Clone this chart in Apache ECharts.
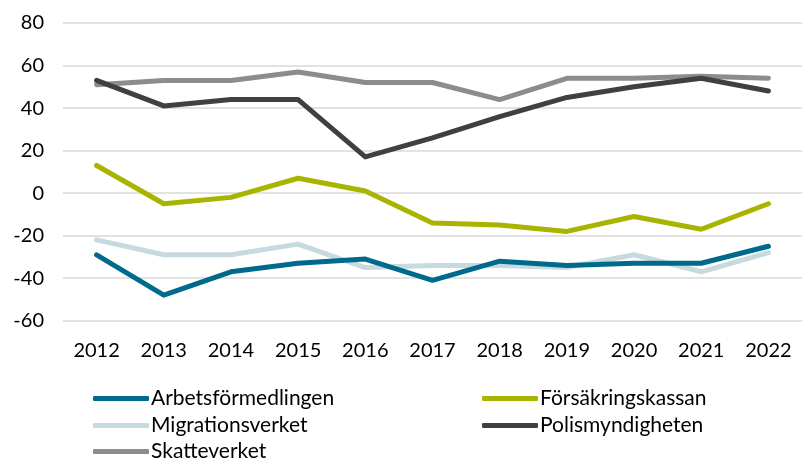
<!DOCTYPE html>
<html>
<head>
<meta charset="utf-8">
<script src="https://cdn.jsdelivr.net/npm/echarts@6/dist/echarts.min.js"></script>
<style>
html,body{margin:0;padding:0;background:#fff;}
#c{width:802px;height:461px;}
</style>
</head>
<body>
<div id="c"></div>
<script>
const years = ['2012','2013','2014','2015','2016','2017','2018','2019','2020','2021','2022'];
const yTicks = [-60,-40,-20,0,20,40,60,80];
const arbetsformedlingen = [-29,-48,-37,-33,-31,-41,-32,-34,-33,-33,-25];
const forsakringskassan = [13,-5,-2,7,1,-14,-15,-18,-11,-17,-5];
const migrationsverket = [-22,-29,-29,-24,-35,-34,-34,-35,-29,-37,-28];
const polismyndigheten = [53,41,44,44,17,26,36,45,50,54,48];
const skatteverket = [51,53,53,57,52,52,44,54,54,55,54];

const FONT = 'Lato';
const seriesDefs = [
  {name:'Skatteverket', data:skatteverket, color:'#8C8C8C'},
  {name:'Polismyndigheten', data:polismyndigheten, color:'#404040'},
  {name:'Försäkringskassan', data:forsakringskassan, color:'#A8B400'},
  {name:'Migrationsverket', data:migrationsverket, color:'#C7DADF'},
  {name:'Arbetsförmedlingen', data:arbetsformedlingen, color:'#006A8C'}
];
const legendPos = {
  'Arbetsförmedlingen':{left:93, top:388},
  'Försäkringskassan':{left:482, top:388},
  'Migrationsverket':{left:93, top:415},
  'Polismyndigheten':{left:482, top:415},
  'Skatteverket':{left:93, top:441}
};
const legends = Object.keys(legendPos).map(n => ({
  data:[n], left:legendPos[n].left, top:legendPos[n].top,
  icon:'roundRect', itemWidth:56, itemHeight:5, itemGap:0,
  textStyle:{fontFamily:FONT, fontSize:21, color:'#000', padding:[0,0,0,-3]},
  padding:0, selectedMode:false
}));

const chart = echarts.init(document.getElementById('c'), null, {renderer:'canvas'});
chart.setOption({
  animation:false,
  backgroundColor:'#fff',
  grid:{left:63, top:23, width:744, bottom:140.3, containLabel:false},
  legend:legends,
  xAxis:{type:'category', data:years, boundaryGap:true,
    axisLine:{show:false}, axisTick:{show:false},
    axisLabel:{fontFamily:FONT, fontSize:20, color:'#000', margin:20}},
  yAxis:{type:'value', min:yTicks[0], max:yTicks[yTicks.length-1], interval:20,
    axisLine:{show:false}, axisTick:{show:false},
    splitLine:{lineStyle:{color:'#D9D9D9', width:1.5}},
    axisLabel:{fontFamily:FONT, fontSize:20, color:'#000', margin:19}},
  series:seriesDefs.map(s => ({
    name:s.name, type:'line', data:s.data, symbol:'none', smooth:false,
    lineStyle:{color:s.color, width:5, cap:'round', join:'round'},
    itemStyle:{color:s.color}
  }))
});
</script>
</body>
</html>
